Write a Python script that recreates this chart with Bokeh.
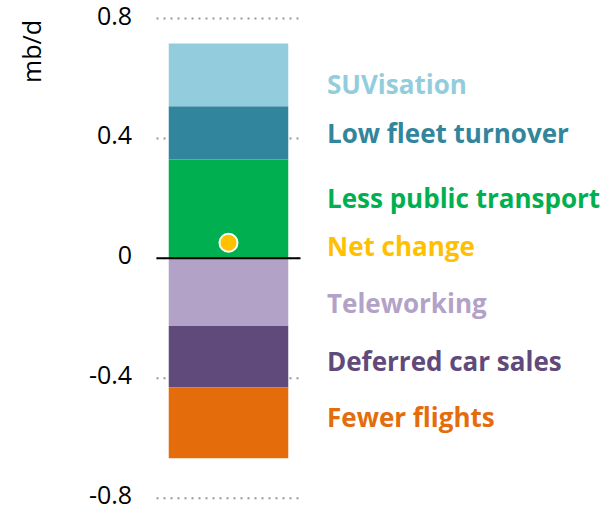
import numpy as np
from bokeh.plotting import figure
from bokeh.models import Range1d, ColumnDataSource
from bokeh.core.properties import value
from bokeh.embed import file_html
from bokeh.resources import INLINE

# ---- data (mb/d) ----
pos_names = ["Less public transport", "Low fleet turnover", "SUVisation"]
pos_values = [0.33, 0.177, 0.21]
neg_names = ["Teleworking", "Deferred car sales", "Fewer flights"]
neg_values = [-0.226, -0.205, -0.236]
net_name = "Net change"
net_value = 0.052

y_ticks = [-0.8, -0.4, 0, 0.4, 0.8]
y_tick_labels = ["-0.8", "-0.4", "0", "0.4", "0.8"]
y_label = "mb/d"

# ---- styles / layout ----
colors = {
    "SUVisation": "#93CDDD",
    "Low fleet turnover": "#31859C",
    "Less public transport": "#00B050",
    "Net change": "#FFC000",
    "Teleworking": "#B3A2C7",
    "Deferred car sales": "#604A7B",
    "Fewer flights": "#E46C0A",
}
label_order = ["SUVisation", "Low fleet turnover", "Less public transport", "Net change",
               "Teleworking", "Deferred car sales", "Fewer flights"]
label_y = [0.583, 0.419, 0.202, 0.042, -0.150, -0.344, -0.528]
label_x = 1.184
tick_label_x = -0.169
ylabel_x, ylabel_y = -0.875, 0.69

W, H = 609, 509
p = figure(width=W, height=H, x_range=Range1d(-156 / 144, (W - 156) / 144),
           y_range=Range1d(-(H - 257.85) / 299.8, 257.85 / 299.8),
           output_backend="svg", toolbar_location=None,
           x_axis_location=None, y_axis_location=None,
           min_border=0)
p.outline_line_color = None
p.xgrid.visible = False
p.ygrid.visible = False

# dotted grid lines across the bar column
p.segment(x0=[0] * len(y_ticks), x1=[1] * len(y_ticks), y0=y_ticks, y1=y_ticks,
          line_color="#969696", line_dash="2 5", line_width=2)

# stacked bars
pos_top = np.cumsum(pos_values)
pos_bottom = pos_top - np.array(pos_values)
neg_bottom = np.cumsum(neg_values)
neg_top = neg_bottom - np.array(neg_values)

src = ColumnDataSource(dict(
    x=[0.5] * 6,
    top=list(pos_top) + list(neg_top),
    bottom=list(pos_bottom) + list(neg_bottom),
    color=[colors[n] for n in pos_names + neg_names],
))
p.vbar(x="x", top="top", bottom="bottom", width=0.83, fill_color="color", line_color=None, source=src)

# zero line
p.segment(x0=[0], x1=[1], y0=[0], y1=[0], line_color="black", line_width=2)

# net change dot
p.scatter(x=[0.5], y=[net_value], size=18, fill_color=colors[net_name], line_color="white", line_width=2)

# tick labels
p.text(x=[tick_label_x] * len(y_ticks), y=y_ticks, text=y_tick_labels, text_align="right",
       text_baseline="alphabetic", y_offset=-3, text_font=value("Open Sans"), text_font_size="25px",
       text_color="black")

# y label
p.text(x=[ylabel_x], y=[ylabel_y], text=[y_label], angle=np.pi / 2, text_align="center",
       text_baseline="middle", text_font=value("Open Sans"), text_font_size="25px", text_color="black")

# series labels
p.text(x=[label_x] * len(label_order), y=label_y, text=label_order,
       text_color=[colors[n] for n in label_order], text_font=value("Open Sans"),
       text_font_style="bold", text_font_size="26px", text_baseline="alphabetic", text_align="left")

open("out.html", "w").write(file_html(p, INLINE))
